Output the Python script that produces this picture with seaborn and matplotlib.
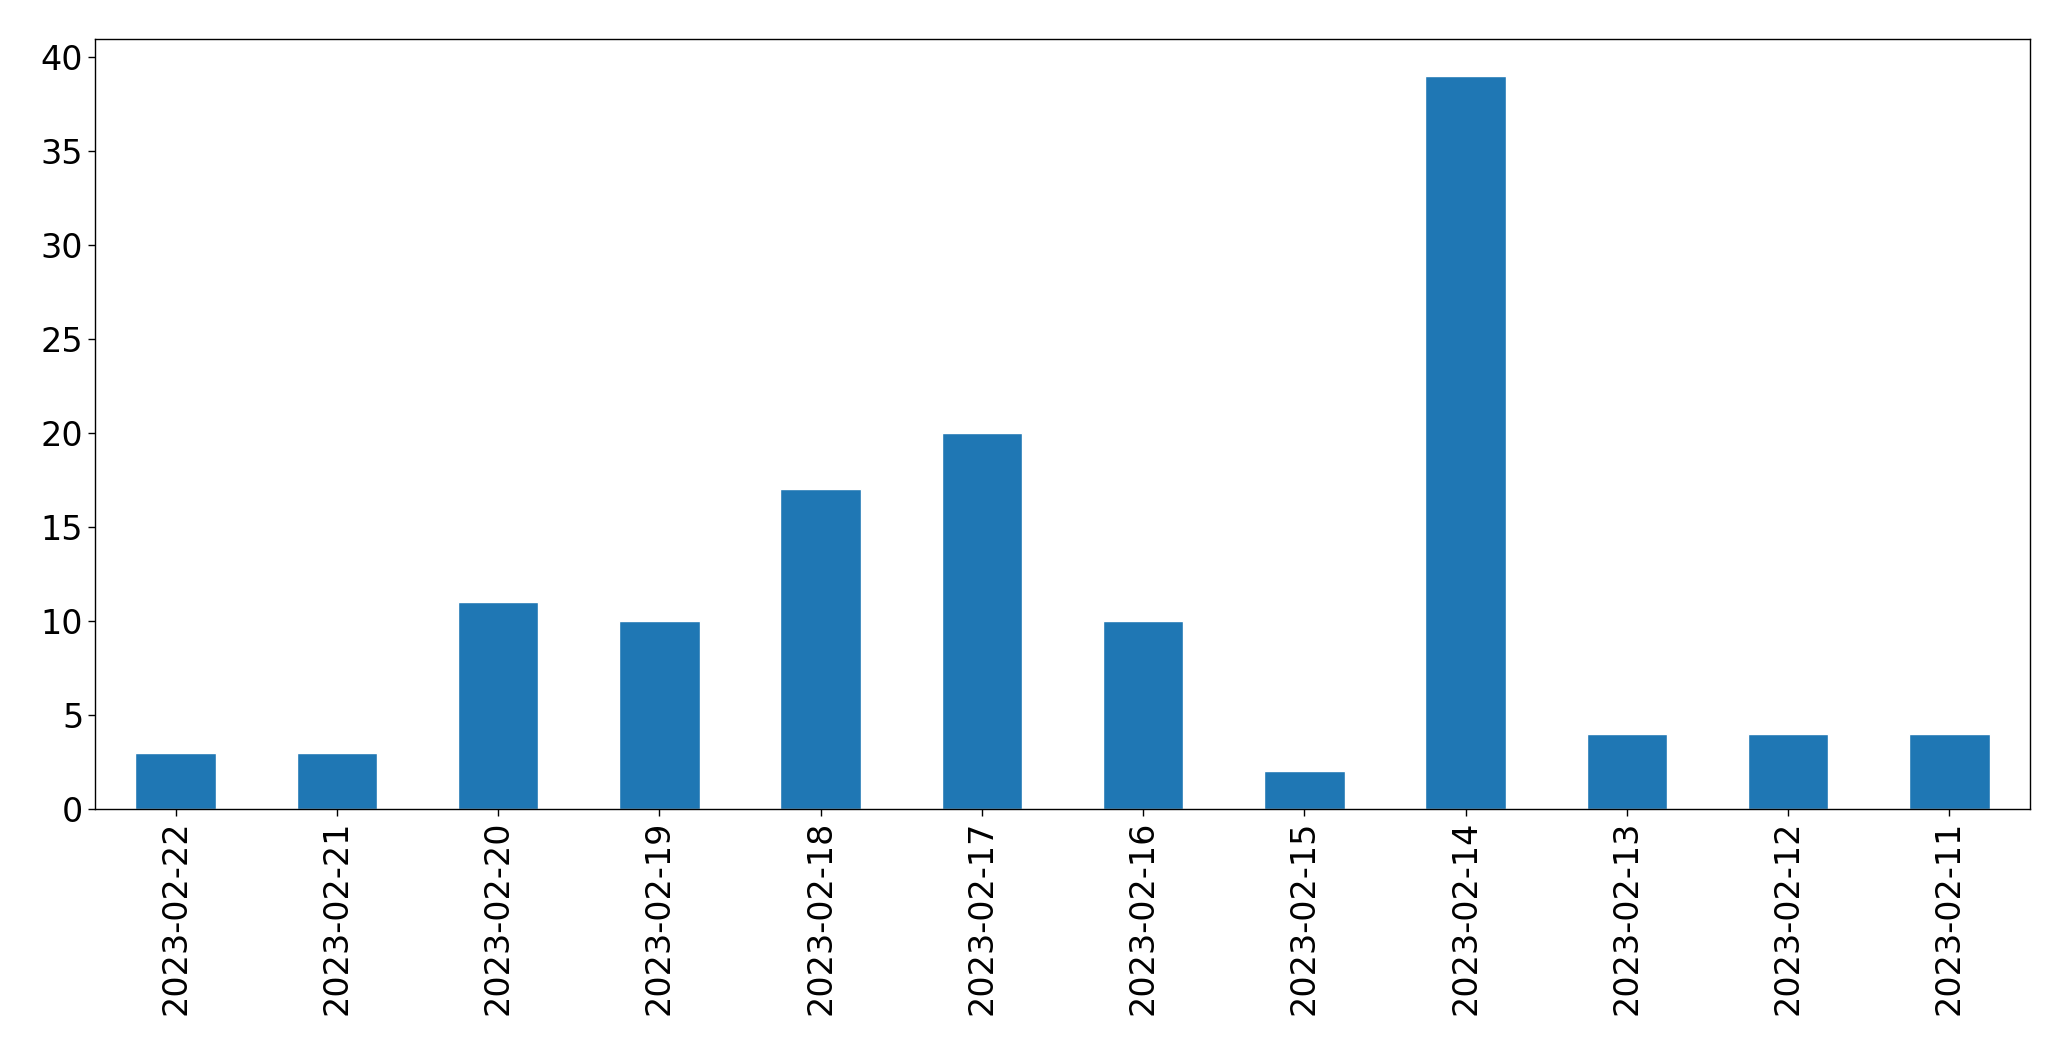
import pandas as pd
import seaborn as sns
import matplotlib
matplotlib.use('Agg')
import matplotlib.pyplot as plt

dates = ['2023-02-22', '2023-02-21', '2023-02-20', '2023-02-19', '2023-02-18', '2023-02-17',
         '2023-02-16', '2023-02-15', '2023-02-14', '2023-02-13', '2023-02-12', '2023-02-11']
counts = [3, 3, 11, 10, 17, 20, 10, 2, 39, 4, 4, 4]

df = pd.DataFrame({'date': dates, 'count': counts})

sns.set_style('ticks')
plt.rcParams['font.family'] = ['DejaVu Sans']

fig = plt.figure(figsize=(20.71, 10.61), dpi=100)
ax = fig.add_axes([95 / 2071, 1 - 809 / 1061, (2030 - 95) / 2071, (809 - 39) / 1061])
sns.barplot(data=df, x='date', y='count', order=dates, color='#1f77b4',
            saturation=1, width=0.5, ax=ax)

ax.set_xlim(-0.5, len(dates) - 0.5)
ax.set_ylim(0, max(counts) * 1.05)
ax.set_xlabel('')
ax.set_ylabel('')
ax.tick_params(axis='both', labelsize=24, length=4.9, width=1,
               color='black', labelcolor='black')
ax.tick_params(axis='x', labelrotation=90)
for s in ax.spines.values():
    s.set_linewidth(1)
    s.set_color('black')

fig.savefig('out.png', dpi=100)
